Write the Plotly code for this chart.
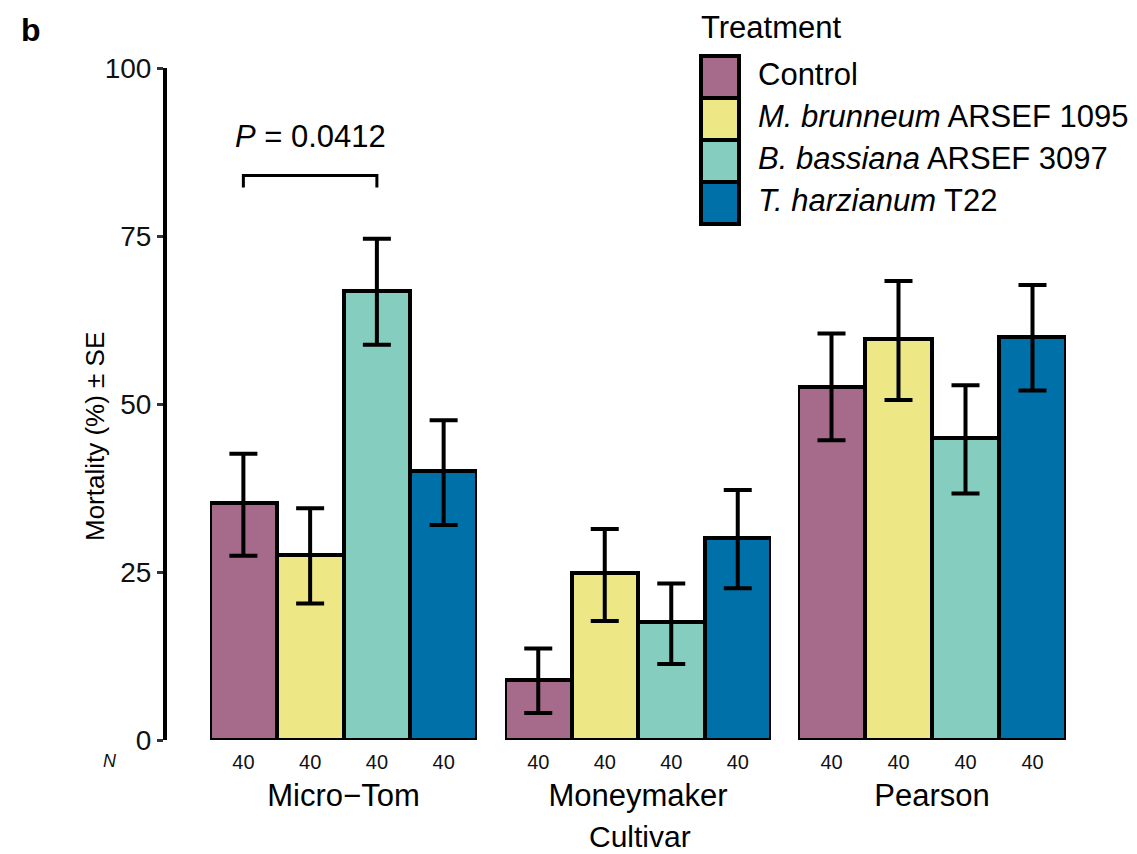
import plotly.graph_objects as go

# ---------------- data ----------------
cultivars = ["Micro\u2212Tom", "Moneymaker", "Pearson"]
treatments = ["Control", "M. brunneum ARSEF 1095", "B. bassiana ARSEF 3097", "T. harzianum T22"]
treatment_labels = ["Control", "<i>M. brunneum</i> ARSEF 1095",
                    "<i>B. bassiana</i> ARSEF 3097", "<i>T. harzianum</i> T22"]
colors = ["#A66A8A", "#EDE785", "#84CDBF", "#0070A8"]

mortality_microtom = [35.2, 27.5, 66.8, 40.0]
mortality_moneymaker = [9.0, 24.9, 17.6, 30.1]
mortality_pearson = [52.6, 59.6, 44.9, 60.0]

upper_microtom = [42.6, 34.5, 74.6, 47.6]
upper_moneymaker = [13.6, 31.4, 23.3, 37.2]
upper_pearson = [60.5, 68.3, 52.8, 67.7]

lower_microtom = [27.4, 20.3, 58.8, 32.0]
lower_moneymaker = [4.0, 17.7, 11.3, 22.6]
lower_pearson = [44.6, 50.6, 36.7, 52.0]

n_microtom = [40, 40, 40, 40]
n_moneymaker = [40, 40, 40, 40]
n_pearson = [40, 40, 40, 40]

y_ticks = [0, 25, 50, 75, 100]
p_label = "<i>P</i> = 0.0412"
bracket_from, bracket_to = "Control", "B. bassiana ARSEF 3097"
bracket_y, bracket_drop = 84.0, 82.2

# ---------------- layout constants ----------------
OFF = 8  # page body margin
W, H = 1137 - OFF, 854 - OFF
ML, MT, MB = 165 - OFF, 68 - OFF, 114
MR = W - (1066 - OFF)
PW, PH = W - ML - MR, H - MT - MB
FONT = "Liberation Sans, Arial, sans-serif"


def px_x(p):
    return (p - OFF - ML) / PW


def px_y(p):
    return (H - MB - (p - OFF)) / PH


domains = [[px_x(210), px_x(477)], [px_x(505), px_x(771)], [px_x(798), 1.0]]

values = [mortality_microtom, mortality_moneymaker, mortality_pearson]
uppers = [upper_microtom, upper_moneymaker, upper_pearson]
lowers = [lower_microtom, lower_moneymaker, lower_pearson]
ns = [n_microtom, n_moneymaker, n_pearson]

fig = go.Figure()
for i, cv in enumerate(cultivars):
    xa = "x" if i == 0 else f"x{i + 1}"
    vals = values[i]
    fig.add_trace(go.Bar(
        x=treatments, y=vals, xaxis=xa, yaxis="y",
        marker=dict(color=colors, line=dict(color="black", width=4)),
        error_y=dict(type="data", symmetric=False,
                     array=[u - v for u, v in zip(uppers[i], vals)],
                     arrayminus=[v - l for v, l in zip(vals, lowers[i])],
                     color="black", thickness=4, width=14),
        showlegend=False, name=cv,
    ))

layout = dict(
    width=W, height=H,
    margin=dict(l=ML, r=MR, t=MT, b=MB, pad=0),
    paper_bgcolor="white", plot_bgcolor="white",
    bargap=0, bargroupgap=0,
    font=dict(family=FONT, color="black"),
    yaxis=dict(range=[0, 100], tickvals=y_ticks, showline=True, linewidth=4,
               linecolor="black", ticks="outside", ticklen=6, tickwidth=3,
               tickcolor="#333333", showgrid=False, zeroline=False,
               anchor="free", position=0, tickfont=dict(size=28, color="#111111")),
)
for i, cv in enumerate(cultivars):
    key = "xaxis" if i == 0 else f"xaxis{i + 1}"
    layout[key] = dict(
        domain=domains[i], type="category", categoryorder="array",
        categoryarray=treatments, range=[-0.5, 3.5], anchor="y",
        tickvals=treatments, ticktext=[str(n) for n in ns[i]],
        tickfont=dict(size=20, color="#111111"), ticks="", showline=False,
        showgrid=False, zeroline=False, ticklabelstandoff=8,
        title=dict(text=cv, font=dict(size=31), standoff=12),
    )
fig.update_layout(**layout)

# significance bracket
i0, i1 = treatments.index(bracket_from), treatments.index(bracket_to)
fig.add_shape(type="path", xref="x", yref="y",
              path=f"M {i0},{bracket_drop} L {i0},{bracket_y} L {i1},{bracket_y} L {i1},{bracket_drop}",
              line=dict(color="black", width=3))
fig.add_annotation(x=(i0 + i1) / 2, y=89.8, xref="x", yref="y", text=p_label,
                   xanchor="center", yanchor="middle",
                   showarrow=False, font=dict(size=31))


def note(x, y, text, size, **kw):
    fig.add_annotation(x=px_x(x), y=px_y(y), xref="paper", yref="paper", text=text,
                       showarrow=False, font=dict(size=size, color=kw.pop("color", "black")),
                       xanchor=kw.pop("xanchor", "center"),
                       yanchor=kw.pop("yanchor", "middle"), **kw)


note(31, 30, "<b>b</b>", 32)
note(95, 437, "Mortality (%) \u00b1 SE", 26, textangle=-90)
note(640, 854, "Cultivar", 30, yanchor="bottom", borderpad=0)
note(110, 761, "<i>N</i>", 18, color="#111111")

# custom legend
note(699, 28, "Treatment", 31, xanchor="left")
item_top, item_h = 56, 42
for k, (lab, col) in enumerate(zip(treatment_labels, colors)):
    top = item_top + k * item_h
    fig.add_shape(type="rect", xref="paper", yref="paper",
                  x0=px_x(701), x1=px_x(739), y0=px_y(top + item_h), y1=px_y(top),
                  fillcolor=col, line=dict(color="black", width=4))
    note(756, top + item_h / 2 - 2, lab, 31, xanchor="left")

fig.write_html("out.html")
